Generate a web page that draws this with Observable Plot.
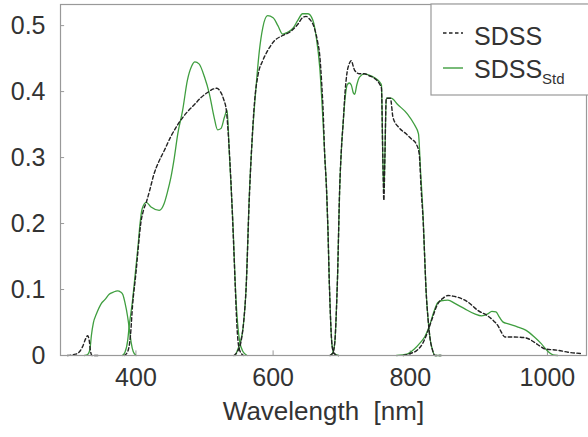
<!DOCTYPE html>
<html>
<head>
<meta charset="utf-8">
<script src="https://cdn.jsdelivr.net/npm/d3@7"></script>
<script src="https://cdn.jsdelivr.net/npm/@observablehq/plot@0.6"></script>
<style>
  html, body { margin: 0; padding: 0; background: #fff; }
  #chart { width: 588px; height: 437px; }
</style>
</head>
<body>
<div id="chart"></div>
<script>
// ---- Data: [wavelength nm, transmission] ----
const sdssU = [[300,0],[312,0.002],[318,0.006],[322,0.013],[327,0.026],[329.5,0.03],[332,0.022],[333.5,0.008],[336,0],[345,0]];
const sdssG = [[383,0],[388,0.006],[392,0.03],[395,0.075],[400,0.125],[404,0.17],[407,0.2],[411,0.22],[415,0.232],[420,0.25],[426,0.274],[433,0.293],[441,0.31],[451,0.332],[461,0.35],[473,0.367],[485,0.38],[495,0.391],[505,0.399],[513,0.404],[518,0.405],[523,0.4],[528,0.388],[532,0.37],[535,0.33],[538.7,0.26],[542,0.18],[545,0.1],[547,0.05],[549,0.02],[552,0.006],[557,0]];
const sdssR = [[543,0],[548,0.006],[553,0.02],[557,0.05],[561,0.11],[565,0.23],[569,0.32],[573,0.385],[578,0.425],[585,0.447],[592,0.462],[602,0.477],[614,0.485],[624,0.49],[636,0.502],[643,0.512],[648,0.514],[653,0.51],[660,0.497],[665,0.475],[668,0.455],[671,0.41],[673,0.37],[675,0.31],[678,0.25],[680,0.19],[682,0.11],[684,0.05],[686,0.015],[689,0.003],[695,0]];
const sdssI = [[683,0],[687,0.004],[690,0.02],[692,0.06],[694,0.12],[697,0.25],[700,0.32],[702,0.35],[705,0.4],[708,0.43],[711,0.442],[714,0.447],[717,0.438],[719,0.432],[726,0.427],[733,0.427],[740,0.424],[748,0.42],[755,0.412],[758,0.405],[760,0.3],[761.5,0.235],[763,0.3],[765,0.39],[771,0.39],[775,0.36],[784,0.345],[794,0.336],[801,0.329],[809,0.32],[813,0.306],[816,0.25],[819,0.2],[821,0.15],[823,0.1],[826,0.055],[829,0.025],[832,0.01],[836,0],[845,0]];
const sdssZ = [[790,0],[800,0.003],[810,0.008],[818,0.018],[825,0.035],[831,0.053],[840,0.078],[848,0.087],[855,0.091],[862,0.09],[870,0.088],[884,0.081],[899,0.068],[913,0.06],[922,0.052],[928,0.045],[933,0.035],[938,0.028],[952,0.028],[967,0.027],[975,0.024],[981,0.02],[991,0.013],[996,0.01],[1015,0.008],[1030,0.005],[1050,0.003]];

const stdU = [[325,0],[330,0.002],[333,0.01],[335,0.03],[338,0.05],[342,0.062],[349,0.078],[355,0.085],[361,0.093],[367,0.096],[373,0.098],[378,0.096],[381,0.092],[384,0.08],[388,0.058],[391,0.035],[393,0.02],[396,0.006],[400,0]];
const stdG = [[380,0],[384,0.005],[388,0.023],[390,0.043],[395,0.083],[400,0.134],[403,0.165],[406,0.2],[409,0.222],[415,0.232],[422,0.225],[434,0.22],[441,0.23],[446,0.248],[451,0.27],[456,0.3],[461,0.336],[468,0.371],[475,0.417],[481,0.438],[486,0.445],[492,0.442],[500,0.422],[507,0.397],[514,0.361],[519,0.342],[524,0.344],[529,0.361],[533,0.372],[536,0.31],[541,0.21],[546,0.083],[551,0.023],[556,0.006],[562,0]];
const stdR = [[545,0],[548,0.008],[552,0.02],[556,0.04],[561,0.11],[565,0.235],[570,0.336],[575,0.405],[580,0.462],[585,0.497],[592,0.515],[600,0.512],[607,0.5],[614,0.487],[621,0.49],[629,0.496],[636,0.508],[643,0.518],[651,0.518],[658,0.508],[663,0.482],[668,0.437],[672,0.37],[675,0.31],[678,0.25],[680,0.19],[682,0.11],[684,0.05],[686,0.015],[689,0.003],[695,0]];
const stdI = [[683,0],[687,0.004],[690,0.02],[692,0.06],[694,0.12],[697,0.25],[700,0.32],[702,0.35],[705,0.39],[708,0.41],[711,0.413],[714,0.41],[717,0.398],[719,0.396],[722,0.41],[726,0.422],[733,0.427],[740,0.425],[748,0.421],[755,0.415],[758,0.41],[760,0.3],[761.5,0.25],[763,0.3],[765,0.39],[772,0.39],[782,0.38],[796,0.366],[806,0.35],[812,0.336],[815,0.28],[819,0.205],[821,0.15],[823,0.1],[826,0.055],[829,0.025],[832,0.01],[836,0],[845,0]];
const stdZ = [[780,0],[795,0.002],[806,0.01],[815,0.02],[821,0.028],[828,0.045],[835,0.068],[840,0.08],[845,0.083],[855,0.084],[865,0.079],[879,0.071],[894,0.063],[904,0.06],[913,0.063],[919,0.067],[925,0.066],[930,0.058],[935,0.051],[943,0.048],[957,0.043],[969,0.038],[981,0.028],[991,0.018],[1001,0.006],[1008,0.001],[1015,0]];

const xTicks = [400, 600, 800, 1000];
const yTicks = [0, 0.1, 0.2, 0.3, 0.4, 0.5];
const yTickLabels = ["0", "0.1", "0.2", "0.3", "0.4", "0.5"];
const xLabel = "Wavelength\u00a0\u00a0[nm]";
const seriesNames = ["SDSS", "SDSS"];
const stdSub = "Std";

const GREEN = "#3f9e3f";
const DARK = "#222";
const FONT = "'Liberation Sans', Arial, sans-serif";

function table(bands) {
  const out = [];
  for (const [name, arr] of Object.entries(bands)) {
    for (const [x, y] of arr) out.push({band: name, x, y});
  }
  return out;
}
const sdssData = table({u: sdssU, g: sdssG, r: sdssR, i: sdssI, z: sdssZ});
const stdData = table({u: stdU, g: stdG, r: stdR, i: stdI, z: stdZ});

const plot = Plot.plot({
  width: 588,
  height: 437,
  marginLeft: 60,
  marginRight: 2,
  marginTop: 4,
  marginBottom: 82,
  x: {domain: [290, 1057]},
  y: {domain: [0, 0.532]},
  style: {fontFamily: FONT, fontSize: "25px", color: "#333", background: "#fff"},
  marks: [
    Plot.axisX(xTicks, {tickSize: 0, tickPadding: 13, label: null, fontSize: 25, fill: "#333",
      tickFormat: (d) => String(d)}),
    Plot.axisY(yTicks, {tickSize: 0, tickPadding: 15, label: null, fontSize: 25, fill: "#333",
      tickFormat: (d) => yTickLabels[yTicks.indexOf(d)]}),
    Plot.ruleX(xTicks, {y1: 0, y2: 0.007, stroke: "#999", strokeWidth: 1}),
    Plot.ruleY(yTicks, {x1: 290, x2: 296, stroke: "#999", strokeWidth: 1}),
    Plot.line(stdData, {x: "x", y: "y", z: "band", stroke: GREEN, strokeWidth: 1.3, curve: "monotone-x"}),
    Plot.line(sdssData, {x: "x", y: "y", z: "band", stroke: DARK, strokeWidth: 1.4, strokeDasharray: "3.5,2.5", curve: "monotone-x"}),
    Plot.frame({stroke: "#999", strokeWidth: 1.2}),
    Plot.text([xLabel], {text: (d) => d, frameAnchor: "bottom", dy: 64, fontSize: 26, fill: "#333"})
  ]
});
document.getElementById("chart").appendChild(plot);

// Legend inside the plot area (top-right)
const svg = d3.select(plot);
const lg = svg.append("g").attr("font-family", FONT).attr("fill", "#333").attr("text-anchor", "start");
lg.append("rect").attr("x", 431).attr("y", 4).attr("width", 160).attr("height", 91)
  .attr("fill", "#fff").attr("stroke", "#999").attr("stroke-width", 1.2);
lg.append("line").attr("x1", 443).attr("x2", 463).attr("y1", 33).attr("y2", 33)
  .attr("stroke", DARK).attr("stroke-width", 1.4).attr("stroke-dasharray", "3.5,2.5");
lg.append("text").attr("x", 474).attr("y", 45).attr("font-size", 25).text(seriesNames[0]);
lg.append("line").attr("x1", 443).attr("x2", 463).attr("y1", 68).attr("y2", 68)
  .attr("stroke", GREEN).attr("stroke-width", 1.4);
const t2 = lg.append("text").attr("x", 474).attr("y", 78).attr("font-size", 25);
t2.append("tspan").text(seriesNames[1]);
t2.append("tspan").attr("font-size", 15).attr("dy", 6).text(stdSub);
</script>
</body>
</html>
